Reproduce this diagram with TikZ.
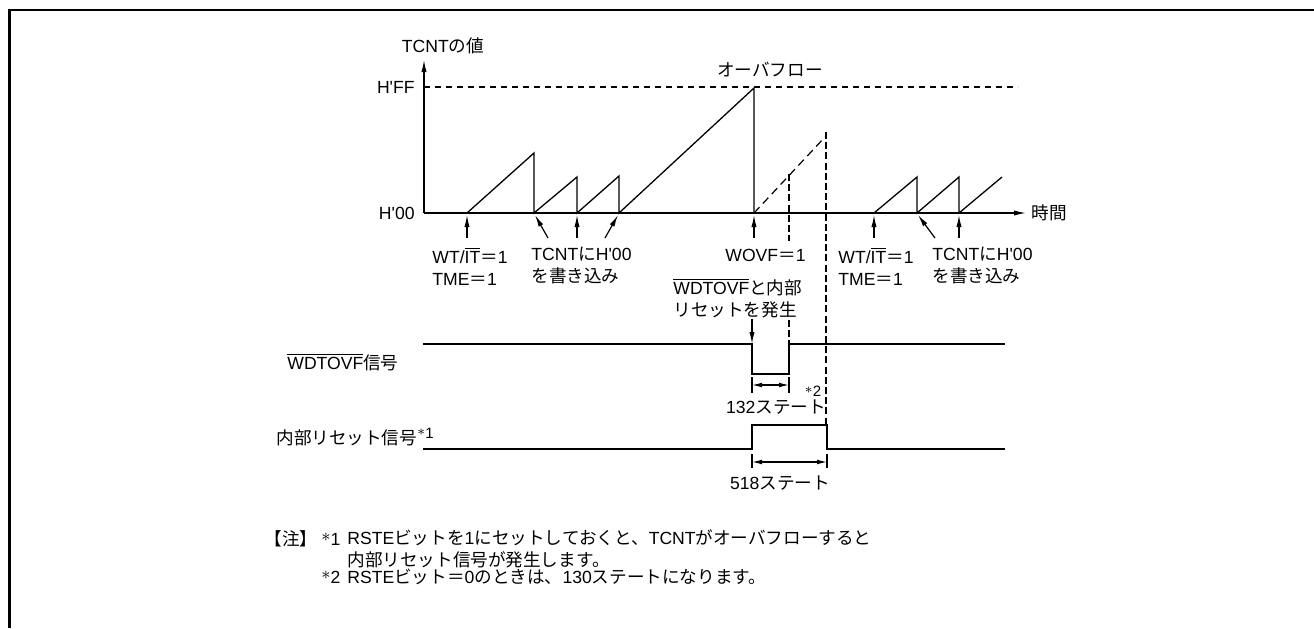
\documentclass[tikz,border=0pt]{standalone}
\usepackage{fontspec}
\setmainfont{Liberation Sans}
\newfontfamily\jp{Noto Sans CJK JP}
\usetikzlibrary{arrows.meta,positioning,calc}

\tikzset{
  jiku/.style={line width=0.65pt},
  sig/.style={line width=1.3pt},
  hasen/.style={line width=0.6pt, dash pattern=on 3pt off 2.5pt},
  tatehasen/.style={line width=0.6pt, dash pattern=on 3.5pt off 1.6pt},
  yaji/.style={line width=0.6pt, -{Latex[length=6pt,width=2.6pt]}},
  sunpou/.style={line width=0.6pt, {Latex[length=5pt,width=2.4pt]}-{Latex[length=5pt,width=2.4pt]}},
  lbl/.style={inner sep=0pt, anchor=west, align=left, font=\fontsize{8.8}{11}\selectfont},
}
\newcommand{\hq}{\textquotesingle}
\newcommand{\kome}{\raisebox{0.35ex}{$\ast$}}

\begin{document}
\begin{tikzpicture}[x=0.5pt,y=-0.5pt]
  \useasboundingbox (0,0) rectangle (1314,628);
  % 枠
  \draw[line width=1.1pt] (9.5,628) -- (9.5,10) -- (1314,10);

  % 軸
  \coordinate (o) at (424,213);
  \coordinate (ytop) at (424,60);
  \coordinate (xend) at (1026,213);
  \draw[yaji] (o) -- (ytop);
  \draw[yaji] (o) -- (xend);
  \node[lbl, anchor=center] (ylbl) at (443,46) {TCNT{\jp の値}};
  \node[lbl] (xlbl) at (1031,213) {{\jp 時間}};
  \node[lbl, anchor=east] (hff) at (415,87) {H\hq FF};
  \node[lbl, anchor=east] (h00) at (415,213) {H\hq 00};
  \node[lbl, anchor=center] (ovf) at (770,70) {{\jp オーバフロー}};
  \draw[hasen] (424,87) -- (1018,87);

  % TCNTのカウント
  \draw[jiku] (467,213) -- (534,153) -- (534,213) -- (577,177) -- (577,213)
    -- (619,176) -- (619,213) -- (754,88) -- (754,213);
  \draw[jiku] (874,213) -- (917,177) -- (917,213) -- (959,177) -- (959,213)
    -- (1002,177);
  \draw[line width=0.6pt, dash pattern=on 4pt off 2.5pt] (754,213) -- (825,137);
  \draw[tatehasen] (789,174) -- (789,241) (789,320) -- (789,344);
  \draw[tatehasen] (826,132) -- (826,425);

  % 矢印と説明
  \foreach \n/\tx/\hx in {a/467/467, b/548/535, c/577/577, d/605/618, e/754/754,
                          f/874/874, g/935/918, h/959/959}{
    \coordinate (t\n) at (\tx,238);
    \coordinate (p\n) at (\hx,215);
    \draw[yaji] (t\n) -- (p\n);
  }
  \node[lbl] (wt1) at (432,266) {WT/$\overline{\hbox{IT}}${\jp ＝}1\\TME{\jp ＝}1};
  \node[lbl] (wr1) at (531,266) {TCNT{\jp に}H\hq 00\\{\jp を書き込み}};
  \node[lbl] (wovf) at (725,255) {WOVF{\jp ＝}1};
  \node[lbl] (rst) at (673,298) {$\overline{\hbox{WDTOVF}}${\jp と内部}\\{\jp リセットを発生}};
  \node[lbl] (wt2) at (838,266) {WT/$\overline{\hbox{IT}}${\jp ＝}1\\TME{\jp ＝}1};
  \node[lbl] (wr2) at (932,266) {TCNT{\jp に}H\hq 00\\{\jp を書き込み}};

  % WDTOVF信号
  \node[lbl] (wdtlbl) at (287,362) {$\overline{\hbox{WDTOVF}}${\jp 信号}};
  \draw[sig] (423,344) -- (752,344) -- (752,374) -- (789,374) -- (789,344) -- (1005,344);
  \coordinate (dtop) at (752,319);
  \coordinate (dbot) at (752,344);
  \draw[yaji] (dtop) -- (dbot);
  \draw[line width=0.6pt] (752,377) -- (752,393) (789,377) -- (789,393);
  \draw[sunpou] (752,385) -- (789,385);
  \node[lbl, anchor=center] (s132) at (776,407) {132{\jp ステート}};
  \node[lbl, anchor=center, font=\fontsize{7.5}{9}\selectfont] (n2) at (813,391) {\kome 2};

  % 内部リセット信号
  \node[lbl] (irlbl) at (276,437) {{\jp 内部リセット信号}\raisebox{0.6ex}{\fontsize{7.5}{9}\selectfont\kome 1}};
  \draw[sig] (423,449) -- (752,449) -- (752,425) -- (827,425) -- (827,449) -- (1005,449);
  \draw[line width=0.6pt] (752,454) -- (752,468) (827,454) -- (827,468);
  \draw[sunpou] (752,462) -- (827,462);
  \node[lbl, anchor=center] (s518) at (780,483) {518{\jp ステート}};

  % 注
  \node[lbl] (chu) at (264,539) {{\jp 【注】}};
  \node[lbl] (c1) at (321,539) {\kome 1};
  \node[lbl] (c1t) at (347,549) {RSTE{\jp ビットを}1{\jp にセットしておくと、}TCNT{\jp がオーバフローすると}\\{\jp 内部リセット信号が発生します。}};
  \node[lbl] (c2) at (321,577) {\kome 2};
  \node[lbl] (c2t) at (347,577) {RSTE{\jp ビット＝}0{\jp のときは、}130{\jp ステートになります。}};
\end{tikzpicture}
\end{document}
